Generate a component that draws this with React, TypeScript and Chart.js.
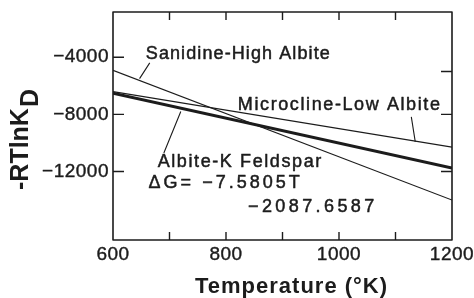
import React, { useEffect, useRef } from 'react';
import { Chart, registerables } from 'chart.js';

Chart.register(...registerables);

// ---- data ----
const temperatures = [600, 1200];
const sanidineHighAlbite = [-4910, -14000];
const microclineLowAlbite = [-6400, -10290];
const albiteKFeldspar = [-6520, -11760];

const xTickLabels = [600, 800, 1000, 1200];
const xTickMarks = [700, 800, 900, 1000, 1100];
const yTickLabels = [-4000, -8000, -12000];
const yRightTickMarks = [-5000, -8000, -12000];

const xTitle = 'Temperature (°K)';
const yTitleMain = '-RTlnK';
const yTitleSub = 'D';

// annotations (anchored in data units)
const labelTexts = ['Sanidine-High Albite', 'Microcline-Low Albite', 'Albite-K Feldspar', 'ΔG= −7.5805T', '−2087.6587'];
const labelT = [658, 821, 679, 663, 839];
const labelV = [-3743, -7324, -11325, -12799, -14484];
const pointerFromT = [665, 1128, 690];
const pointerFromV = [-4396, -8171, -10707];
const pointerToT = [647, 1135, 720];
const pointerToV = [-5498, -9924, -7800];

const FONT = '"Liberation Sans", Arial, sans-serif';
const INK = '#1c1c1c';
const labelSpacing = ['1.1px', '1.6px', '1.6px', '3px', '3.4px'];

const pts = (vals: number[]) => temperatures.map((t, i) => ({ x: t, y: vals[i] }));
const fmt = (v: number) => String(v).replace('-', '\u2212');

const paperPlugin = {
  id: 'paper',
  afterDatasetsDraw(chart: any) {
    const { ctx, chartArea } = chart;
    const { left, right, top, bottom } = chartArea;
    const xs = chart.scales.x;
    const ys = chart.scales.y;
    const c = ctx as CanvasRenderingContext2D & { letterSpacing?: string };
    const heavy = (txt: string, x: number, y: number, w: number) => {
      c.fillText(txt, x, y);
      c.lineWidth = w;
      c.strokeText(txt, x, y);
    };
    c.save();
    c.strokeStyle = INK;
    c.fillStyle = INK;
    c.lineJoin = 'round';
    // frame
    c.lineWidth = 1.6;
    c.strokeRect(left, top, right - left, bottom - top);
    // ticks
    c.lineWidth = 1.4;
    c.beginPath();
    xTickMarks.forEach((t) => {
      const px = xs.getPixelForValue(t);
      c.moveTo(px, top);
      c.lineTo(px, top + 8);
      c.moveTo(px, bottom);
      c.lineTo(px, bottom - 8);
    });
    yTickLabels.forEach((v) => {
      const py = ys.getPixelForValue(v);
      c.moveTo(left, py);
      c.lineTo(left + 11, py);
    });
    yRightTickMarks.forEach((v) => {
      const py = ys.getPixelForValue(v);
      c.moveTo(right, py);
      c.lineTo(right - 11, py);
    });
    c.stroke();

    // tick labels
    c.font = `19px ${FONT}`;
    c.textBaseline = 'middle';
    c.letterSpacing = '0.5px';
    c.textAlign = 'center';
    xTickLabels.forEach((t) => {
      heavy(String(t), xs.getPixelForValue(t), bottom + 15, 0.4);
    });
    c.textAlign = 'right';
    yTickLabels.forEach((v) => {
      heavy(fmt(v), left - 4, ys.getPixelForValue(v), 0.4);
    });

    // x title
    c.font = `bold 22px ${FONT}`;
    c.letterSpacing = '1px';
    c.textAlign = 'center';
    c.fillText(xTitle, xs.getPixelForValue(916), 287);

    // y title
    c.save();
    c.translate(27, 190);
    c.rotate(-Math.PI / 2);
    c.textAlign = 'left';
    c.font = `bold 25px ${FONT}`;
    c.letterSpacing = '0px';
    c.fillText(yTitleMain, 0, -6);
    const w = c.measureText(yTitleMain).width;
    c.fillText(yTitleSub, w + 1, 4);
    c.restore();

    // annotation pointers
    c.lineWidth = 1.1;
    c.beginPath();
    pointerFromT.forEach((t, i) => {
      c.moveTo(xs.getPixelForValue(t), ys.getPixelForValue(pointerFromV[i]));
      c.lineTo(xs.getPixelForValue(pointerToT[i]), ys.getPixelForValue(pointerToV[i]));
    });
    c.stroke();

    // annotation text
    c.textAlign = 'left';
    c.textBaseline = 'middle';
    labelTexts.forEach((txt, i) => {
      c.font = `18px ${FONT}`;
      c.letterSpacing = labelSpacing[i];
      heavy(txt, xs.getPixelForValue(labelT[i]), ys.getPixelForValue(labelV[i]), 0.5);
    });
    c.letterSpacing = '0px';
    c.restore();
  },
};

export default function App() {
  const ref = useRef<HTMLCanvasElement>(null);
  useEffect(() => {
    if (!ref.current) return;
    const chart = new Chart(ref.current, {
      type: 'line',
      data: {
        datasets: [
          { label: 'Sanidine-High Albite', data: pts(sanidineHighAlbite), borderColor: INK, borderWidth: 1.2, pointRadius: 0 },
          { label: 'Microcline-Low Albite', data: pts(microclineLowAlbite), borderColor: INK, borderWidth: 1.2, pointRadius: 0 },
          { label: 'Albite-K Feldspar', data: pts(albiteKFeldspar), borderColor: INK, borderWidth: 3, pointRadius: 0 },
        ],
      },
      options: {
        responsive: false,
        animation: false,
        events: [],
        layout: { padding: { left: 113, right: 22, top: 12, bottom: 58 } },
        plugins: { legend: { display: false }, tooltip: { enabled: false } },
        scales: {
          x: { type: 'linear', min: 600, max: 1200, display: false },
          y: { type: 'linear', min: -16800, max: -830, display: false },
        },
      },
      plugins: [paperPlugin],
    });
    return () => chart.destroy();
  }, []);
  return (
    <div style={{ position: 'absolute', left: 0, top: 0, width: 474, height: 298, background: '#fff' }}>
      <canvas ref={ref} width={474} height={298} style={{ display: 'block' }} />
    </div>
  );
}
